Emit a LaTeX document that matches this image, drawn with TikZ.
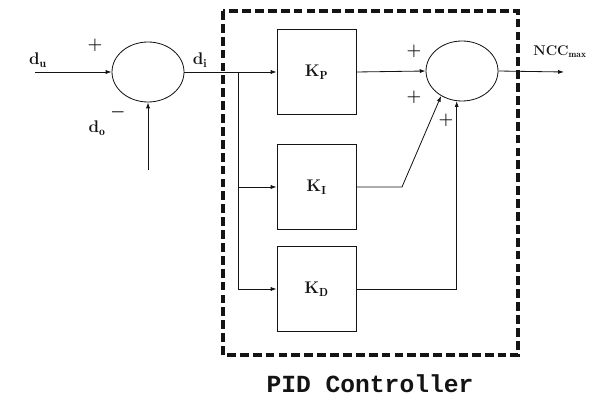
\documentclass[tikz,border=0pt]{standalone}
\usepackage{fontspec}
\usepackage{tikz}
\usetikzlibrary{positioning,arrows.meta,shapes.geometric,calc}
\usepackage{amsmath,amssymb}
\newfontfamily\pidmono{Liberation Mono}
\definecolor{pidInk}{RGB}{20,20,20}

\begin{document}
\begin{tikzpicture}[x=0.03cm, y=-0.03cm, color=pidInk,
    every path/.style={line width=0.7pt},
    sig/.style={-{Latex[length=5pt,width=3.5pt]}},
    sumnode/.style={draw, ellipse, inner sep=0pt, minimum width=2.16cm, minimum height=1.8cm},
    gainbox/.style={draw, rectangle, inner sep=0pt, minimum width=2.37cm, minimum height=2.55cm, font=\Large\bfseries},
    lbl/.style={font=\Large\bfseries, inner sep=1pt},
    pidframe/.style={line width=3.2pt, dash pattern=on 7.5pt off 3.5pt}]
  \useasboundingbox (0,0) rectangle (592,401);
  % summing junctions and gains
  \node[sumnode] (sumA) at (148,72) {};
  \node[sumnode] (sumB) at (462,71) {};
  \node[gainbox] (kp) at (316.5,72) {K$_{\mathbf{P}}$};
  \node[gainbox] (ki) at (316.5,187) {K$_{\mathbf{I}}$};
  \node[gainbox] (kd) at (316.5,289) {K$_{\mathbf{D}}$};
  \coordinate (uin) at (35,72);
  \coordinate (oin) at (148,170);
  \coordinate (split) at (238,72);
  \coordinate (kibend) at (402,187);
  \coordinate (out) at (564,72);
  % signals
  \draw[sig] (uin) -- (sumA.west);
  \draw[sig] (oin) -- (sumA.south);
  \draw[sig] (sumA.east) -- (kp.west);
  \draw[sig] (split) |- (ki.west);
  \draw[sig] (split) |- (kd.west);
  \draw[sig] (kp.east) -- (sumB.west);
  \draw[sig] (ki.east) -- (kibend) -- (sumB.230);
  \draw[sig] (kd.east) -| (sumB.260);
  \draw[sig] (sumB.east) -- (out);
  % controller frame
  \draw[pidframe] (223,11) rectangle (518,355);
  % labels
  \node[lbl] (du) at (38,60) {d$_{\mathbf{u}}$};
  \node[lbl] (plusU) at (95,45) {$\boldsymbol{+}$};
  \node[lbl] (minusO) at (118,112) {$\boldsymbol{-}$};
  \node[lbl] (do) at (97,128) {d$_{\mathbf{o}}$};
  \node[lbl] (di) at (200,60) {d$_{\mathbf{i}}$};
  \node[lbl] (plusP) at (414,51) {$\boldsymbol{+}$};
  \node[lbl] (plusI) at (414,97) {$\boldsymbol{+}$};
  \node[lbl] (plusD) at (446,120) {$\boldsymbol{+}$};
  \node[lbl, font=\large\bfseries] (ncc) at (560,52) {NCC$_{\mathbf{max}}$};
  \node[font=\pidmono\bfseries\fontsize{21}{25}\selectfont] (pidname) at (370,384) {PID Controller};
\end{tikzpicture}
\end{document}
